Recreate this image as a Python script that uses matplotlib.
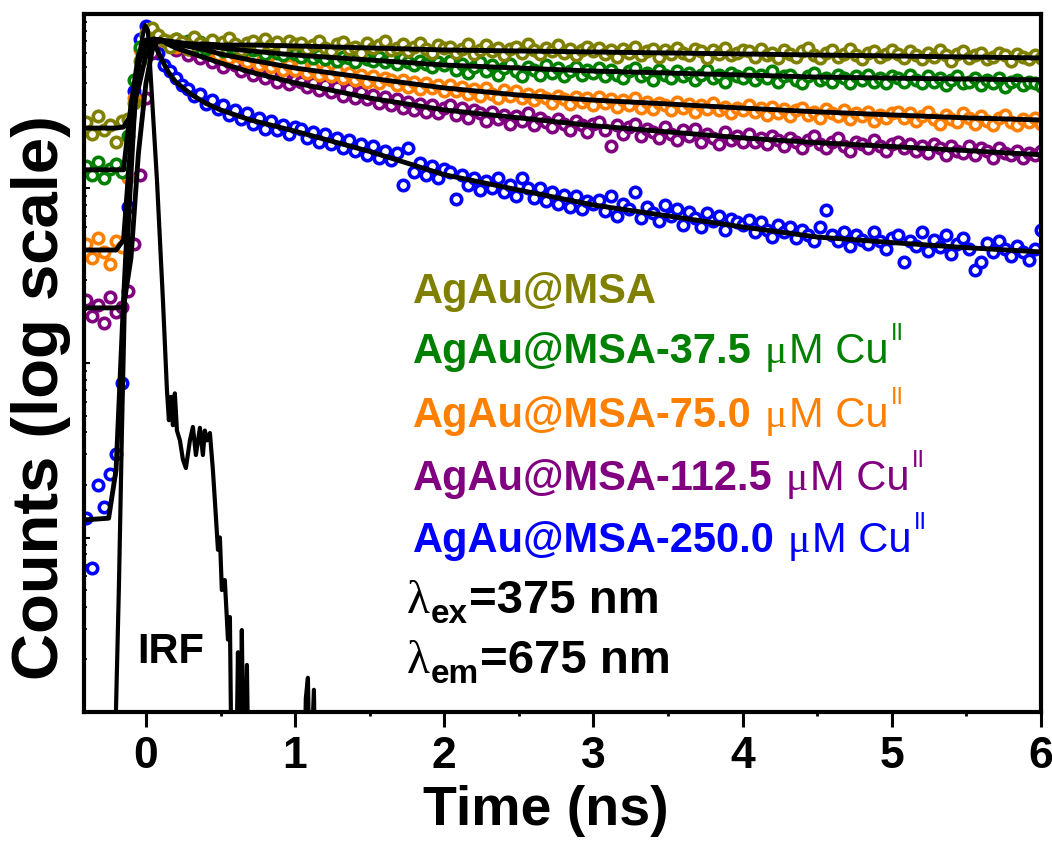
import numpy as np
import matplotlib
matplotlib.use("Agg")
import matplotlib.pyplot as plt
from matplotlib.ticker import MultipleLocator, LogLocator, NullFormatter

plt.rcParams['font.family'] = ['Liberation Sans', 'DejaVu Sans']

# channel times (ns) of the decay data
time = np.round(np.arange(-0.40, 6.0001, 0.04), 2)

# measured decays (counts), one value per channel
olive = [2400, 2050, 2600, 2150, 2300, 1850, 2450,
         2500, 3100, 5400, 7500, 8300, 7600, 7100,
         6500, 7200, 6900, 6300, 7400, 6800, 6600, 7100, 6400, 6900, 7300,
         6700, 6200, 6800, 7000, 6500, 7200, 6600, 6900, 6300, 7000, 6700,
         6800, 6300, 6600, 7000, 6400, 6100, 6700, 6900, 6300, 6500, 6000, 6800, 6400,
         6600, 7000, 6200, 6400, 6700, 6100, 6500, 6800, 6300, 6000, 6600, 6400,
         6500, 6000, 6300, 6700, 5900, 6200, 6600, 6100, 6400, 5800, 6300, 6500, 6000,
         6700, 6200, 5900, 6400, 6100, 6600, 6000, 6300, 5800, 6200, 6500, 6100,
         6400, 5900, 6200, 5700, 6300, 6000, 6500, 5800, 6100, 6300, 5700, 6200, 5900,
         6400, 6000, 5800, 6300, 6100, 5600, 6200, 5900, 6400, 5800, 6000, 6200,
         6100, 5700, 6300, 5800, 6000, 5600, 6200, 5900, 5700, 6100, 6400, 5800, 5600,
         6000, 6200, 5700, 5900, 6300, 5800, 5500, 6000, 6100, 5700, 5900, 6200,
         5900, 5600, 6100, 5800, 5500, 6000, 5700, 6200, 5800, 5400, 5900, 6100, 5600,
         5800, 6000, 5500, 5700, 6000, 5800, 5400, 5900, 5700, 5500, 5800, 5600]

green = [1350, 1200, 1420, 1150, 1300, 1380, 1250,
         2000, 4200, 6500, 7600, 8200, 7500, 7100,
         6800, 7200, 6600, 7000, 6500, 6900, 6300, 6700, 6500, 6100, 6600,
         6300, 6000, 6500, 6200, 6400, 5900, 6300, 6000, 5800, 6200, 5900,
         5700, 6000, 5600, 5800, 5500, 5900, 5400, 5700, 5600, 5300, 5800, 5500, 5400,
         5700, 5300, 5500, 5200, 5600, 5300, 5100, 5400, 5200, 5000, 5300, 5100,
         5400, 4800, 5200, 4600, 5000, 5300, 4700, 5100, 4500, 4900, 5200, 4700, 4400,
         5000, 4800, 4500, 5100, 4600, 4900, 4400, 4700, 5000, 4500, 4800, 4600,
         4900, 4400, 4800, 4500, 4300, 4700, 4900, 4400, 4600, 4200, 4800, 4500, 4300,
         4700, 4400, 4600, 4200, 4500, 4800, 4300, 4500, 4100, 4600, 4400, 4300,
         4600, 4200, 4500, 4300, 4700, 4100, 4400, 4500, 4200, 4000, 4400, 4600, 4200,
         4300, 4100, 4500, 4300, 4000, 4400, 4200, 4500, 4100, 4300, 4000, 4400,
         4300, 4100, 4500, 4200, 4000, 4400, 4100, 4300, 3900, 4200, 4400, 4000, 4100,
         4300, 3900, 4200, 4000, 4300, 3800, 4100, 4200, 3900, 4100, 4000, 3850]

orange = [480, 400, 520, 430, 370, 500, 460,
          1150, 3300, 6200, 7800, 8200, 7500, 7000,
          7000, 6500, 6900, 6300, 6600, 6100, 6400, 6200, 5800, 6100, 5600,
          5900, 5700, 5300, 5700, 5100, 5400, 5000, 5300, 4800, 5100, 4750,
          5100, 4600, 4900, 4500, 4800, 4400, 4700, 4300, 4600, 4200, 4500, 4100, 4400,
          4000, 4300, 4200, 3900, 4200, 3800, 4100, 3700, 4000, 3750, 3900, 3600,
          3900, 3600, 3800, 3500, 3700, 3400, 3750, 3500, 3300, 3650, 3400, 3600, 3300,
          3500, 3200, 3450, 3300, 3100, 3400, 3250, 3050, 3350, 3150, 3300, 3000,
          3350, 3100, 3250, 2950, 3200, 3000, 3300, 2900, 3150, 2850, 3100, 3000, 2800,
          3150, 2900, 3050, 2750, 3000, 2850, 3100, 2800, 2950, 2700, 2900, 2800,
          3000, 2750, 2900, 2650, 2950, 2700, 2850, 2600, 2800, 2900, 2650, 2750, 2550,
          2850, 2700, 2600, 2800, 2500, 2700, 2600, 2750, 2450, 2650, 2550, 2700,
          2750, 2550, 2700, 2450, 2600, 2750, 2500, 2350, 2650, 2500, 2400, 2700, 2550,
          2350, 2600, 2450, 2300, 2550, 2650, 2400, 2300, 2500, 2400, 2550, 2350]

purple = [230, 185, 215, 170, 240, 195, 210,
          260, 480, 1200, 3300, 6000, 7400, 7000,
          6800, 6200, 6500, 5800, 6100, 5600, 5900, 5300, 5600, 5000, 5300,
          5100, 4700, 5000, 4500, 4800, 4300, 4600, 4100, 4400, 3950, 4200,
          4100, 3800, 4000, 3650, 3900, 3550, 3800, 3400, 3700, 3300, 3550, 3250, 3450,
          3100, 3350, 3000, 3250, 2900, 3150, 2800, 3050, 2750, 3000, 2700, 2900,
          3000, 2650, 2900, 2550, 2800, 2700, 2450, 2750, 2500, 2650, 2350, 2600, 2450,
          2700, 2300, 2550, 2400, 2250, 2500, 2350, 2150, 2450, 2300, 2100, 2350,
          2400, 2150, 1750, 2300, 2050, 2250, 2350, 2000, 2200, 2100, 1950, 2250, 2050,
          1900, 2150, 2000, 2200, 1850, 2050, 1950, 1800, 2100, 1900, 2000, 1850,
          2050, 1850, 1950, 1800, 2000, 1900, 1750, 1950, 1850, 1700, 1900, 2000, 1800,
          1700, 1850, 1950, 1750, 1650, 1850, 1800, 1700, 1900, 1750, 1650, 1800,
          1850, 1700, 1800, 1650, 1750, 1600, 1800, 1700, 1550, 1750, 1650, 1600, 1750,
          1550, 1700, 1650, 1500, 1700, 1600, 1550, 1650, 1500, 1600, 1550, 1650]

blue = [13, 6.7, 20, 15, 23, 30, 77,
        780, 3600, 7200, 8500, 7400, 6000, 5100,
        4700, 4300, 3900, 3700, 3400, 3500, 3050, 3200, 2850, 3000, 2650,
        2800, 2500, 2700, 2350, 2550, 2200, 2450, 2150, 2300, 2050, 2250,
        2200, 1950, 2100, 1850, 2050, 1800, 1950, 1700, 1900, 1650, 1800, 1550, 1750,
        1500, 1650, 1450, 1600, 1050, 1700, 1250, 1400, 1200, 1350, 1150, 1300,
        1250, 870, 1200, 1050, 1150, 980, 1100, 1000, 1150, 950, 1050, 900, 1150,
        1000, 880, 1000, 850, 950, 820, 920, 780, 900, 760, 850, 820,
        860, 740, 900, 700, 820, 760, 950, 680, 780, 720, 650, 800, 700,
        760, 620, 730, 680, 600, 720, 650, 700, 580, 670, 640, 620,
        660, 560, 640, 580, 530, 620, 560, 600, 520, 580, 540, 500, 600,
        750, 540, 500, 560, 470, 540, 510, 480, 560, 500, 450, 520,
        540, 380, 500, 470, 560, 440, 510, 460, 540, 420, 480, 520, 450,
        340, 380, 490, 430, 500, 450, 410, 470, 430, 390, 450, 580]

# fitted curves (counts)
fit_t = [-0.42, -0.25, -0.2, -0.15, -0.1, -0.05, 0.0, 0.05, 0.1, 0.15, 0.2, 0.3, 0.4,
         0.5, 0.7, 1.0, 1.5, 2.0, 2.5, 3.0, 3.5, 4.0, 4.5, 5.0, 5.5, 6.0]
fit_olive = [2220, 2220, 2220, 2250, 2640, 3770, 5820, 6910, 7000, 6910, 6820, 6730, 6730,
             6640, 6640, 6560, 6390, 6220, 6140, 6060, 5980, 5900, 5820, 5750, 5670, 5600]
fit_green = [1280, 1280, 1280, 1280, 3010, 5820, 6820, 7180, 7100, 7000, 6910, 6730, 6560,
             6390, 6140, 5820, 5450, 5100, 4900, 4710, 4590, 4470, 4350, 4290, 4240, 4190]
fit_orange = [444, 444, 444, 507, 1900, 5310, 6730, 7180, 7100, 6910, 6730, 6480, 6220,
              5900, 5450, 4900, 4290, 3770, 3430, 3210, 3050, 2890, 2750, 2640, 2540, 2470]
fit_purple = [207, 207, 207, 210, 400, 1600, 4000, 6700, 7100, 6700, 6390, 5980, 5600,
              5240, 4650, 4030, 3300, 2820, 2540, 2290, 2110, 1950, 1830, 1740, 1650, 1560]
fit_blue = [12.6, 12.9, 24.4, 230, 1660, 5100, 7100, 7100, 5600, 4650, 4080, 3480, 3080,
            2820, 2470, 2130, 1630, 1200, 980, 804, 696, 602, 527, 490, 458, 433]

# instrument response function
irf_t = [-0.415, -0.214, -0.201, -0.181, -0.161, -0.141, -0.107, -0.074, -0.040, -0.007,
         0.013, 0.027, 0.074, 0.114, 0.141, 0.154, 0.168, 0.181, 0.194, 0.208, 0.228,
         0.248, 0.268, 0.295, 0.315, 0.335, 0.362, 0.382, 0.395, 0.409, 0.429, 0.449,
         0.462, 0.483, 0.496, 0.509, 0.529, 0.550, 0.563, 0.576, 0.603, 0.617, 0.630,
         0.643, 0.657, 0.677, 0.690, 1.059, 1.072, 1.086, 1.099, 1.126, 1.139, 6.0]
irf = [0.3, 0.3, 1.0, 5.2, 39.7, 230, 860, 2820, 6220, 8650,
       8090, 5240, 1120, 230, 70, 47, 64, 44, 67, 41, 36,
       28, 25, 36, 43, 29.7, 42.5, 29.7, 41, 36, 39.7, 24.4,
       16.4, 8.5, 10, 5.0, 5.7, 2.6, 3.5, 0.3, 0.3, 2.2, 0.3,
       2.95, 0.3, 1.86, 0.3, 0.3, 1.2, 1.57, 0.3, 1.34, 0.3, 0.3]

colors = ['#808000', '#008000', '#FF8000', '#800080', '#0000FF']
concs = [None, '37.5', '75.0', '112.5', '250.0']
data = [olive, green, orange, purple, blue]
fits = [fit_olive, fit_green, fit_orange, fit_purple, fit_blue]

W, H = 1052, 844
fig = plt.figure(figsize=(W / 100, H / 100), dpi=100)
ax = fig.add_axes([84 / W, (H - 712) / H, (1041 - 84) / W, (712 - 14) / H])

for i in reversed(range(5)):
    ax.plot(time, data[i], 'o', ms=7.5, mew=2.6, mfc='white', mec=colors[i],
            zorder=2 + (4 - i) * 0.1)
for f in fits:
    ax.plot(fit_t, f, color='black', lw=3.5, zorder=4)
ax.plot(irf_t, irf, color='black', lw=3, zorder=5)

ax.set_yscale('log')
ax.set_ylim(1, 1e4)
ax.set_xlim(-0.415, 6.0)

ax.xaxis.set_major_locator(MultipleLocator(1))
ax.xaxis.set_minor_locator(MultipleLocator(0.5))
ax.yaxis.set_minor_locator(LogLocator(base=10, subs=np.arange(2, 10)))
ax.yaxis.set_minor_formatter(NullFormatter())
ax.tick_params(axis='x', which='major', direction='out', length=11, width=2.2,
               labelsize=32, pad=6, top=False)
ax.tick_params(axis='x', which='minor', direction='out', length=3, width=2, top=False)
ax.tick_params(axis='y', which='major', direction='in', length=4, width=1.5,
               labelleft=False, right=False)
ax.tick_params(axis='y', which='minor', direction='in', length=2.5, width=1.2, right=False)
for lab in ax.get_xticklabels():
    lab.set_fontweight('bold')
for sp in ax.spines.values():
    sp.set_linewidth(3)

ax.set_xlabel('Time (ns)', fontsize=40, fontweight='bold')
ax.xaxis.set_label_coords(0.483, -0.105)
ax.set_ylabel('Counts (log scale)', fontsize=47, fontweight='bold')
ax.yaxis.set_label_coords(-0.014, 0.451)

renderer = fig.canvas.get_renderer()


def rich(x0, base, pieces):
    # pieces: (text, size, weight, family, color, rise_px, gap_after_px)
    x = x0
    for s, size, weight, fam, color, rise, gap in pieces:
        t = fig.text(x / W, (H - base + rise) / H, s, fontsize=size, fontweight=weight,
                     family=fam, color=color, ha='left', va='baseline')
        x += t.get_window_extent(renderer).width + gap


sans = 'Liberation Sans'
serif = 'Liberation Serif'
baselines = [303, 363, 427, 490, 552]
for i in range(5):
    if concs[i] is None:
        rich(413, baselines[i], [('AgAu@MSA', 30, 'bold', sans, colors[i], 0, 0)])
    else:
        rich(413, baselines[i], [
            ('AgAu@MSA-' + concs[i], 30, 'bold', sans, colors[i], 0, 13),
            ('\u03bc', 30, 'normal', serif, colors[i], 0, 2),
            ('M Cu', 30, 'normal', sans, colors[i], 0, 2),
            ('II', 17, 'normal', sans, colors[i], 23, 0),
        ])

rich(407, 613, [('\u03bb', 34, 'normal', serif, 'black', 0, 1),
                ('ex', 24, 'bold', sans, 'black', -10, 1),
                ('=375 nm', 34, 'bold', sans, 'black', 0, 0)])
rich(407, 673, [('\u03bb', 34, 'normal', serif, 'black', 0, 1),
                ('em', 24, 'bold', sans, 'black', -10, 1),
                ('=675 nm', 34, 'bold', sans, 'black', 0, 0)])
rich(137, 663, [('IRF', 30, 'bold', sans, 'black', 0, 0)])

fig.savefig('out.png', dpi=100)
